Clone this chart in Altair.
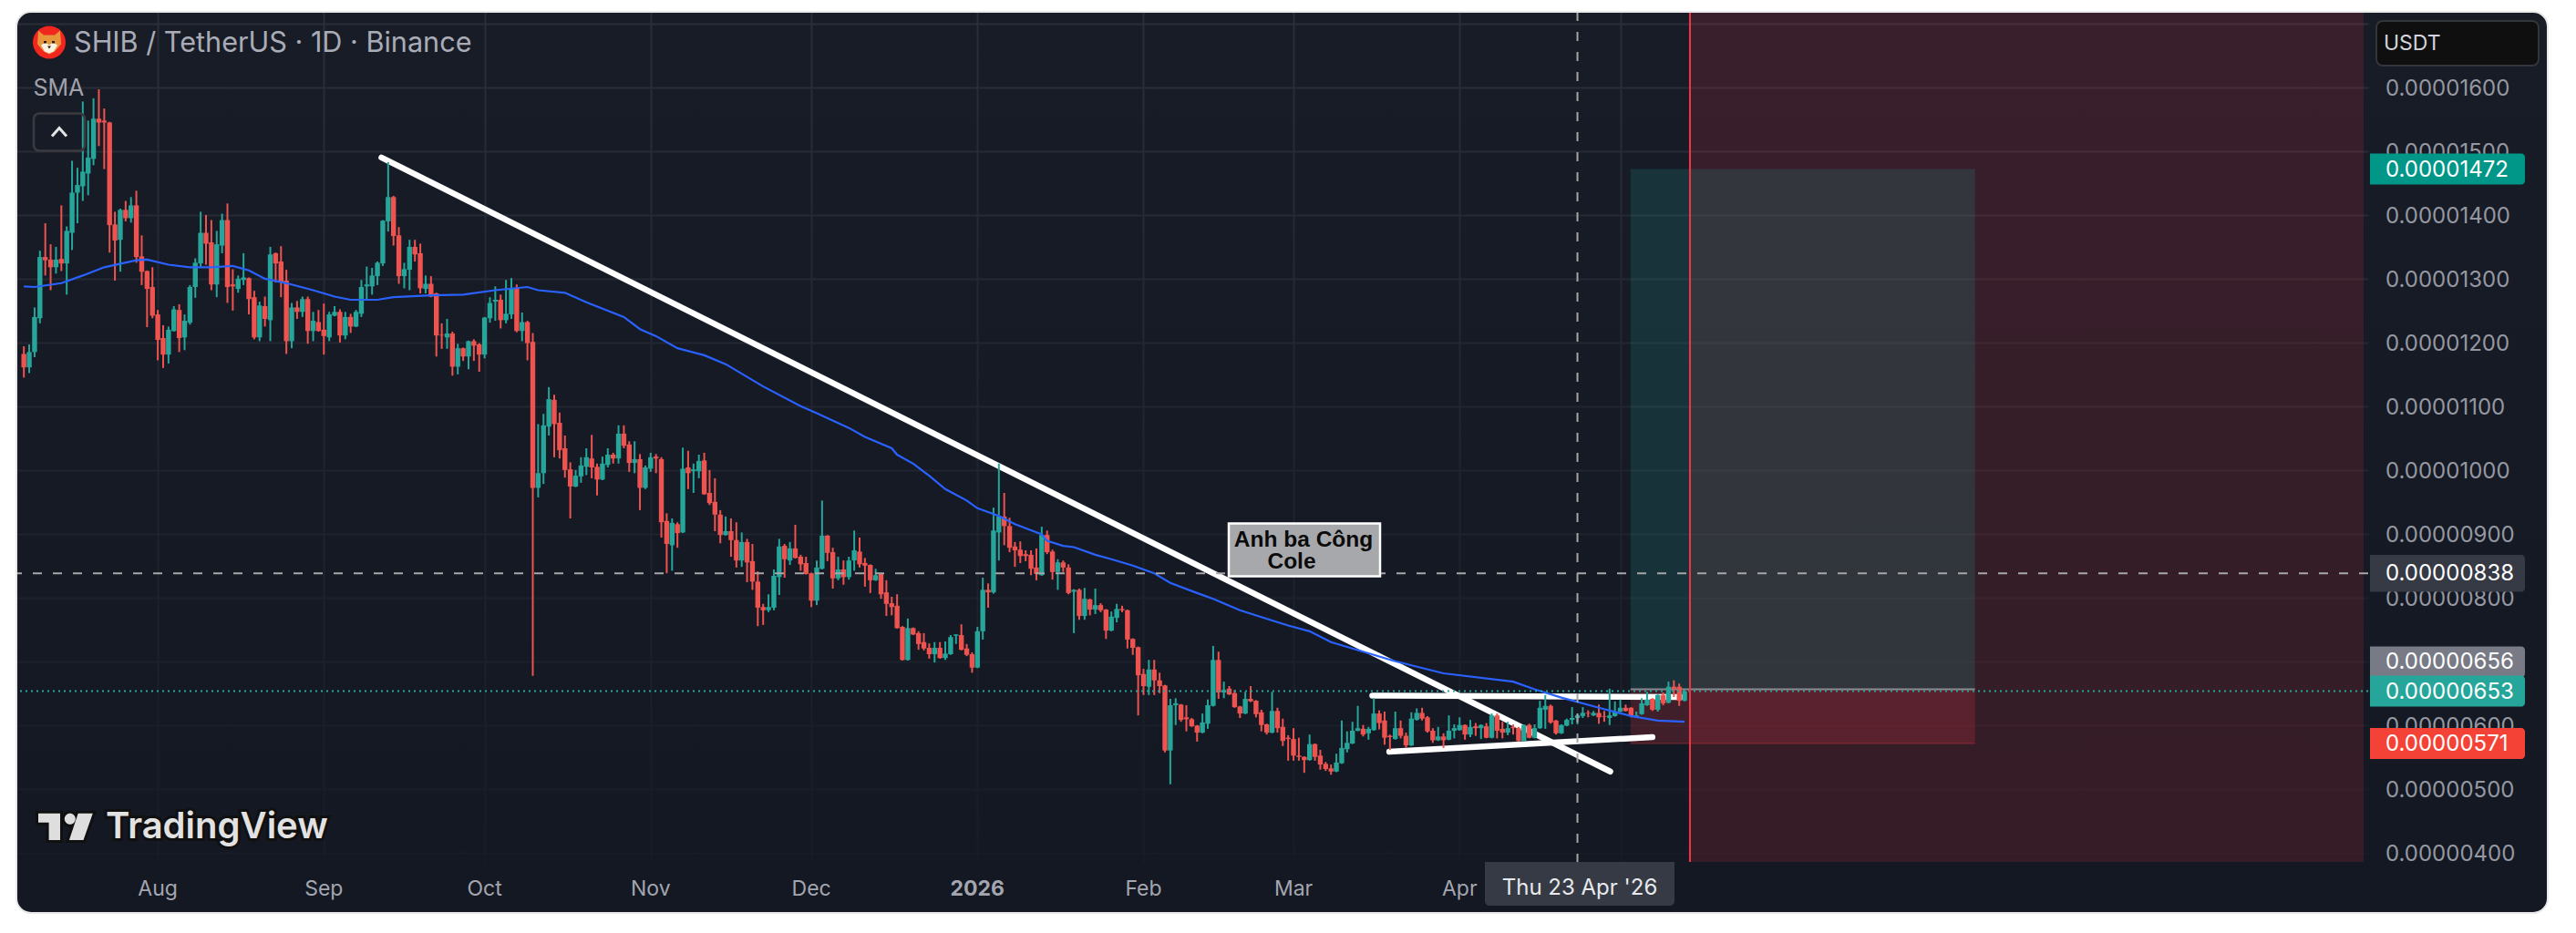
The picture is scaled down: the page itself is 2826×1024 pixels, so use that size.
import altair as alt
import pandas as pd

# ---- chart values (prices in units of 1e-8 USDT) ----
first_day = "2025-07-07"
opens = [
1182,1161,1185,1238,1334,1330,1318,1331,1324,1372,
1435,1445,1465,1488,1551,1548,1545,1385,1361,1408,
1395,1415,1335,1312,1287,1244,1207,1181,1218,1251,
1208,1231,1287,1324,1372,1357,1291,1352,1392,1291,
1284,1298,1301,1271,1208,1257,1235,1340,1327,1297,
1202,1255,1248,1268,1218,1232,1220,1208,1242,1248,
1211,1240,1225,1245,1288,1288,1304,1324,1390,1428,
1368,1304,1314,1350,1340,1284,1292,1277,1212,1208,
1214,1162,1191,1178,1202,1197,1181,1238,1264,1267,
1235,1244,1285,1218,1232,1201,972,995,1068,1110,
1074,1034,1001,974,990,1005,1018,1005,985,1008,
1024,1018,1057,1040,1011,1017,972,1002,1021,1017,
920,882,915,902,1004,998,998,1015,964,950,
930,898,904,890,858,887,857,825,785,780,
784,832,881,858,877,864,854,838,795,845,
897,871,830,844,832,858,872,854,851,827,
837,808,791,787,754,702,752,744,730,721,
711,721,705,711,740,741,720,711,690,747,
812,808,902,927,912,880,875,868,867,847,
835,898,872,840,855,847,809,812,771,797,
781,788,781,748,768,782,780,735,722,680,
660,687,670,662,560,631,632,612,609,599,
588,602,630,702,651,657,650,629,618,641,
638,620,601,588,622,597,580,578,552,550,
545,570,552,539,532,527,540,562,571,591,
594,587,592,618,607,583,578,595,583,568,
608,619,612,591,576,582,577,591,592,600,
585,598,595,598,580,615,594,588,597,595,
575,600,580,595,624,630,607,587,599,608,
611,614,619,615,619,614,611,614,621,627,
627,613,617,631,641,624,647,635,660,660,638]
highs = [
1194,1197,1255,1344,1387,1354,1350,1415,1382,1485,
1474,1578,1548,1583,1597,1567,1546,1405,1410,1422,
1428,1438,1368,1313,1318,1251,1227,1225,1257,1260,
1244,1290,1332,1405,1400,1392,1375,1402,1418,1315,
1305,1340,1302,1281,1264,1272,1350,1341,1351,1314,
1262,1265,1272,1272,1248,1251,1261,1248,1257,1252,
1248,1245,1251,1298,1319,1317,1327,1392,1483,1430,
1381,1325,1361,1361,1355,1305,1304,1278,1230,1237,
1217,1198,1192,1203,1205,1199,1240,1271,1288,1275,
1298,1301,1291,1247,1234,1215,1072,1088,1130,1118,
1090,1054,1012,1000,1020,1034,1055,1010,1021,1034,
1027,1070,1070,1045,1045,1025,1007,1027,1025,1020,
932,924,918,1035,1030,1010,1024,1027,1000,987,
937,927,924,918,902,892,884,841,790,805,
844,892,884,887,914,867,864,839,858,952,
898,878,864,858,864,905,894,862,852,845,
838,827,801,805,755,767,753,747,744,728,
730,730,731,741,742,758,727,714,754,831,
822,941,1010,964,925,887,888,874,874,877,
911,905,875,860,858,852,813,814,815,798,
814,791,782,778,790,787,781,736,723,688,
702,702,682,663,641,642,633,631,611,600,
618,640,724,715,668,661,655,630,652,661,
639,624,602,652,627,610,584,595,580,551,
585,571,561,542,538,555,607,590,605,630,
600,597,642,623,621,585,621,607,588,620,
626,627,614,595,597,587,615,601,612,601,
608,603,601,603,618,618,605,605,601,597,
601,602,601,638,647,632,608,601,610,628,
617,628,623,622,632,622,657,637,640,632,
628,621,642,652,642,648,651,668,670,665,655]
lows = [
1145,1152,1177,1230,1305,1282,1308,1312,1275,1345,
1387,1422,1431,1478,1508,1472,1341,1297,1311,1390,
1388,1325,1290,1224,1238,1172,1160,1167,1217,1185,
1188,1228,1270,1317,1322,1282,1271,1340,1262,1250,
1278,1290,1244,1205,1202,1225,1202,1294,1271,1182,
1191,1237,1240,1198,1202,1217,1181,1202,1241,1200,
1205,1215,1224,1240,1267,1275,1290,1320,1374,1352,
1292,1285,1282,1327,1277,1277,1271,1178,1190,1190,
1148,1150,1171,1158,1171,1154,1175,1231,1234,1222,
1230,1237,1216,1202,1172,677,957,978,1054,1020,
1018,988,924,973,980,992,987,960,984,1004,
1010,1010,1034,997,995,937,970,997,995,894,
838,842,878,901,970,964,987,961,945,904,
885,897,864,847,848,824,812,755,757,777,
780,804,831,851,861,842,836,785,788,844,
857,814,827,820,828,842,847,817,807,826,
798,771,772,751,701,701,741,718,717,704,
698,704,702,710,727,717,708,682,689,734,
784,806,858,882,871,848,854,857,835,827,
834,868,828,812,840,805,744,765,765,772,
774,777,735,747,761,777,720,710,615,647,
647,647,650,557,507,600,605,590,597,574,
587,594,629,641,642,647,627,611,617,636,
612,590,585,587,588,567,544,544,544,525,
544,544,530,528,522,526,539,557,570,590,
582,577,591,593,569,561,577,579,564,567,
607,607,588,572,575,564,576,579,591,577,
581,583,578,579,579,579,579,584,585,574,
574,579,579,594,594,602,585,586,598,601,
601,611,612,614,602,605,600,613,620,621,
612,611,616,630,622,621,631,634,644,630,637]
closes = [
1161,1185,1240,1334,1329,1318,1330,1324,1375,1435,
1447,1468,1490,1551,1545,1545,1384,1360,1408,1395,
1415,1334,1311,1284,1242,1204,1181,1220,1252,1207,
1234,1287,1325,1372,1355,1291,1354,1392,1287,1288,
1300,1302,1268,1208,1258,1237,1338,1324,1295,1202,
1255,1248,1268,1218,1234,1218,1210,1244,1248,1211,
1240,1225,1248,1287,1291,1305,1325,1391,1428,1367,
1304,1315,1350,1338,1285,1292,1272,1211,1211,1214,
1162,1191,1178,1202,1195,1181,1239,1262,1267,1235,
1245,1285,1218,1232,1199,972,995,1070,1111,1072,
1031,1000,974,991,1007,1020,1004,985,1010,1024,
1018,1057,1038,1011,1017,972,1004,1020,1018,918,
884,917,901,1002,995,1001,1014,962,948,930,
898,904,890,858,887,855,825,784,780,785,
834,880,860,877,862,852,837,795,847,897,
870,830,844,832,858,874,852,850,827,835,
805,790,785,752,702,752,742,727,720,711,
721,705,712,738,742,718,710,690,747,812,
808,905,927,912,878,874,865,865,845,837,
898,871,840,855,847,807,812,771,798,781,
788,780,748,770,782,780,734,721,678,661,
687,670,661,560,631,634,608,609,598,588,
604,631,702,651,655,648,628,618,641,637,
617,600,588,622,595,575,578,552,550,545,
570,550,538,531,527,541,564,572,591,595,
585,594,618,603,580,581,595,583,568,610,
619,610,590,576,582,576,591,595,600,585,
597,595,600,580,615,591,588,595,595,575,
600,580,595,627,630,604,587,600,608,611,
615,619,618,619,612,613,615,621,627,622,
614,615,634,640,624,647,634,660,657,638,653]

sma_bar = [0,2,7,11,15,21,23,27,31,35,39,42,45,49,54,58,61,66,69,76,82,88,94,96,101,105,112,115,118,122,127,
           131,138,145,148,154,157,162,163,166,169,172,176,178,182,185,190,191,194,196,200,203,207,211,214,219,
           222,227,233,236,240,244,248,252,256,265,278,282,287,294,300,305,310]
sma_val = [1288,1287,1293,1305,1318,1329,1330,1322,1318,1318,1320,1313,1300,1293,1282,1272,1267,1267,1271,1274,1275,1282,1287,1282,1278,1263,1240,1221,1210,1191,1180,
           1166,1131,1100,1089,1066,1052,1034,1024,1010,991,970,952,940,928,915,899,889,881,879,867,860,850,838,823,807,
           798,780,764,756,747,730,720,710,700,681,668,656,643,627,614,607,605]

grid_prices = list(range(400, 1800, 100))
label_prices = list(range(400, 1700, 100))
month_starts = ["2025-08-01","2025-09-01","2025-10-01","2025-11-01","2025-12-01","2026-01-01","2026-02-01","2026-03-01","2026-04-01","2026-05-01"]
month_labels = ["Aug","Sep","Oct","Nov","Dec","2026","Feb","Mar","Apr",""]
month_weight = ["normal","normal","normal","normal","normal","bold","normal","normal","normal","normal"]

trend_dates = ["2025-09-11T18:00:00Z","2026-04-29T03:00:00Z"]
trend_prices = [1490, 527]
upper_dates = ["2026-03-15T17:00:00Z","2026-05-12T07:00:00Z"]
upper_prices = [646, 644]
lower_dates = ["2026-03-18T21:00:00Z","2026-05-07T00:00:00Z"]
lower_prices = [558, 581]

take_profit, entry, stop = 1472, 656, 571
box_start, box_end = "2026-05-02T22:00:00Z", "2026-07-06T05:00:00Z"
red_line_day = "2026-05-14T00:00:00Z"
cross_day = "2026-04-23T00:00:00Z"
cross_price, last_price = 838, 653

tag_values = [1472, 838, 656, 653, 571]
tag_colors = ["#009688", "#363a45", "#787b86", "#26a69a", "#f44336"]
tag_centre = [1472, 838, 699, 653, 571]
tag_half = [24.3, 29, 24.3, 24.3, 24.3]

# ---- layout helpers ----
UNIT = 1e-8
PLOT_L, PLOT_T = 18, 13
PLOT_W, PLOT_H = 2580, 933
def px(x): return x - PLOT_L
def py(y): return y - PLOT_T

def ms(s):
    t = pd.Timestamp(s)
    t = t.tz_localize("UTC") if t.tzinfo is None else t
    return int(t.timestamp() * 1000)

aug1 = pd.Timestamp("2025-08-01", tz="UTC")
x_dom = [int((aug1 + pd.Timedelta(days=d)).timestamp() * 1000) for d in (-25.54, 411.75)]
y_dom = [385.2 * UNIT, 1718.6 * UNIT]

assert len(opens) == len(highs) == len(lows) == len(closes) == 311

dates = [d.strftime("%Y-%m-%dT00:00:00Z") for d in pd.date_range(first_day, periods=len(opens), freq="D")]
candles = pd.DataFrame({
    "date": dates,
    "high": [v * UNIT for v in highs],
    "low": [v * UNIT for v in lows],
    "top": [max(a, b) * UNIT for a, b in zip(opens, closes)],
    "bot": [min(a, b) * UNIT for a, b in zip(opens, closes)],
    "dir": ["up" if c >= o else "down" for o, c in zip(opens, closes)],
})
sma = pd.DataFrame({"date": [dates[i] for i in sma_bar], "v": [v * UNIT for v in sma_val]})

FONT = "Inter"
x_scale = alt.Scale(type="utc", domain=x_dom)
y_scale = alt.Scale(type="linear", domain=y_dom, zero=False, nice=False)
x_axis = alt.Axis(
    values=[ms(s) for s in month_starts], title=None, grid=True, gridColor="#2a2e39", gridWidth=2,
    domain=False, ticks=False, labels=False,
)
y_axis = alt.Axis(
    orient="right", values=[v * UNIT for v in grid_prices], title=None, grid=True, gridColor="#2a2e39", gridWidth=2,
    domain=False, ticks=False, labels=False,
)
def X(f="date"): return alt.X(f"{f}:T", scale=x_scale, axis=x_axis)
def Y(f): return alt.Y(f"{f}:Q", scale=y_scale, axis=y_axis)

one = pd.DataFrame({"a": [0]})
def label(s, x, y, **kw):
    kw.setdefault("font", FONT)
    kw.setdefault("align", "left")
    kw.setdefault("baseline", "middle")
    return alt.Chart(one).mark_text(**kw).encode(x=alt.value(px(x)), y=alt.value(py(y)), text=alt.value(s))
def box(x0, x1, y0, y1, **kw):
    return alt.Chart(one).mark_rect(**kw).encode(
        x=alt.value(px(x0)), x2=alt.value(px(x1)), y=alt.value(py(y0)), y2=alt.value(py(y1)))
def glyph(path, x, y, **kw):
    kw.setdefault("opacity", 1)
    return alt.Chart(one).mark_point(shape=path, size=4, **kw).encode(x=alt.value(px(x)), y=alt.value(py(y)))

# ---- layers ----
panel_shade = box(18, 2795, 13, 1002, cornerRadius=16, fill=alt.LinearGradient(
    gradient="linear", x1=0, x2=0, y1=0, y2=1,
    stops=[alt.GradientStop(color="rgba(19,23,34,0)", offset=0),
           alt.GradientStop(color="rgba(19,23,34,0.85)", offset=1)]))

red_zone = alt.Chart(pd.DataFrame({"a": [ms(red_line_day)], "b": [x_dom[1]]})).mark_rect(
    color="#f23645", opacity=0.15).encode(x=alt.X("a:T", scale=x_scale, axis=x_axis), x2="b:T")

long_df = pd.DataFrame({"a": [box_start], "b": [box_end], "tp": [take_profit * UNIT], "en": [entry * UNIT], "sl": [stop * UNIT]})
tp_box = alt.Chart(long_df).mark_rect(color="#22968e", opacity=0.2).encode(x=X("a"), x2="b:T", y=Y("tp"), y2="en:Q")
sl_box = alt.Chart(long_df).mark_rect(color="#f23645", opacity=0.2).encode(x=X("a"), x2="b:T", y=Y("en"), y2="sl:Q")
entry_line = alt.Chart(long_df).mark_rule(color="#8a8a92", strokeWidth=2).encode(x=X("a"), x2="b:T", y=Y("en"))
stop_line = alt.Chart(long_df).mark_rule(color="#f23645", strokeWidth=2, opacity=0.2).encode(x=X("a"), x2="b:T", y=Y("sl"))

def white_line(ds, ps):
    d = pd.DataFrame({"date": ds, "p": [v * UNIT for v in ps]})
    return alt.Chart(d).mark_line(color="#ffffff", strokeWidth=6.5, strokeCap="round").encode(x=X(), y=Y("p"))
trend = white_line(trend_dates, trend_prices)
upper = white_line(upper_dates, upper_prices)
lower = white_line(lower_dates, lower_prices)

color = alt.Color("dir:N", scale=alt.Scale(domain=["up", "down"], range=["#26a69a", "#ef5350"]), legend=None)
wicks = alt.Chart(candles).mark_rule(strokeWidth=2).encode(x=X(), y=Y("low"), y2="high:Q", color=color)
bodies = alt.Chart(candles).mark_bar(size=5.4).encode(x=X(), y=Y("bot"), y2="top:Q", color=color)
sma_line = alt.Chart(sma).mark_line(color="#2962ff", strokeWidth=2.2).encode(x=X(), y=Y("v"))

cross_h = alt.Chart(pd.DataFrame({"p": [cross_price * UNIT]})).mark_rule(
    color="#a6a6a6", strokeWidth=2, strokeDash=[10, 12]).encode(y=Y("p"))
cross_v = alt.Chart(pd.DataFrame({"date": [cross_day]})).mark_rule(
    color="#a6a6a6", strokeWidth=2, strokeDash=[10, 12]).encode(x=X())
last_line = alt.Chart(pd.DataFrame({"p": [last_price * UNIT]})).mark_rule(
    color="#26a69a", strokeWidth=2, strokeDash=[2, 4]).encode(y=Y("p"))
red_line = alt.Chart(pd.DataFrame({"date": [red_line_day]})).mark_rule(color="#f23645", strokeWidth=2).encode(x=X())

# tick labels (drawn below the price tags, as in the reference)
y_lab_df = pd.DataFrame({"p": [v * UNIT for v in label_prices], "t": [f"{v * UNIT:.8f}" for v in label_prices]})
y_labels = alt.Chart(y_lab_df).mark_text(font=FONT, fontSize=24, align="left", baseline="middle", color="#9598a1", dy=2).encode(
    x=alt.value(px(2617)), y=Y("p"), text="t:N")
x_lab_df = pd.DataFrame({"date": [ms(s) for s in month_starts], "t": month_labels, "w": month_weight})
x_labels = alt.Chart(x_lab_df[x_lab_df.w == "normal"]).mark_text(font=FONT, fontSize=23, align="center", baseline="middle", color="#a3a6af").encode(
    x=X(), y=alt.value(py(976)), text="t:N")
x_labels_bold = alt.Chart(x_lab_df[x_lab_df.w == "bold"]).mark_text(font=FONT, fontSize=23, fontWeight="bold", align="center", baseline="middle", color="#a3a6af").encode(
    x=X(), y=alt.value(py(976)), text="t:N")

tags = pd.DataFrame({
    "hi": [(c + h) * UNIT for c, h in zip(tag_centre, tag_half)],
    "lo": [(c - h) * UNIT for c, h in zip(tag_centre, tag_half)],
    "mid": [c * UNIT for c in tag_centre],
    "txt": [f"{v * UNIT:.8f}" for v in tag_values],
    "col": tag_colors,
})
tag_rects = alt.Chart(tags).mark_rect(cornerRadiusTopRight=4, cornerRadiusBottomRight=4).encode(
    x=alt.value(px(2600)), x2=alt.value(px(2770)), y=Y("hi"), y2="lo:Q", fill=alt.Fill("col:N", scale=None))
tag_text = alt.Chart(tags).mark_text(font=FONT, fontSize=24, align="left", baseline="middle", color="#ffffff", dy=1).encode(
    x=alt.value(px(2617)), y=Y("mid"), text="txt:N")

note_box = box(1348, 1514, 574.5, 632.5, fill="#a7a8ac", stroke="#ffffff", strokeWidth=2.5)
note1 = label("Anh ba Công", 1430, 593, font="Liberation Sans", fontWeight="bold", fontSize=24.5, color="#0b0b0b", align="center")
note2 = label("Cole", 1417, 617, font="Liberation Sans", fontWeight="bold", fontSize=24.5, color="#0b0b0b", align="center")

cross_tag = box(1629, 1837, 946, 994, fill="#363a45", cornerRadiusBottomLeft=5, cornerRadiusBottomRight=5)
cross_txt = label("Thu 23 Apr '26", 1733, 975, fontSize=24, color="#e8e9ec", align="center")

title = label("SHIB / TetherUS · 1D · Binance", 81, 48, fontSize=30.6, color="#a9acb6")
sma_txt = label("SMA", 36.5, 97, fontSize=25, color="#a0a3ab")
btn = box(37, 93, 124.5, 165.5, fillOpacity=0, stroke="#3a3b3e", strokeWidth=2.5, cornerRadius=6)
chev = glyph("M-8,4.5L0,-4.5L8,4.5", 65, 145, filled=False, stroke="#e4e4e4", strokeWidth=3)

usdt_box = box(2607, 2785, 23, 72, fill="#0f0f10", stroke="#33363b", strokeWidth=2, cornerRadius=7)
usdt_txt = label("USDT", 2615, 48, fontSize=23, color="#d1d4dc")

coin = alt.layer(
    glyph("M-18,0A18,18,0,1,1,18,0A18,18,0,1,1,-18,0Z", 54, 46.5, filled=True, fill="#f0261f"),
    glyph("M-12,-13L-6,-8L6,-8L12,-13L13,2L6,10L0,13L-6,10L-13,2Z", 54, 46.5, filled=True, fill="#e8963c"),
    glyph("M-9,3L-4,0L0,3L4,0L9,3L5,10L0,12L-5,10Z", 54, 46.5, filled=True, fill="#fbf1e2"),
    glyph("M-6,-1.5L-3,-1.5L-3,1L-6,1ZM3,-1.5L6,-1.5L6,1L3,1ZM-2,4L2,4L0,7Z", 54, 46.5, filled=True, fill="#2a1a12"),
)

TV_T = "M-29,-14.3L-5,-14.3L-5,15L-17.4,15L-17.4,-4.3L-29,-4.3Z"
TV_S = "M14.7,-14.3L30.8,-14.3L20.5,15L4.9,15Z"
TV_D = "M-0.2,-8.3A6,6,0,1,1,11.8,-8.3A6,6,0,1,1,-0.2,-8.3Z"
tv_logo = alt.layer(
    *[glyph(p, 71, 907, filled=True, fill="#101010", stroke="#101010", strokeWidth=6) for p in (TV_T, TV_S, TV_D)],
    *[glyph(p, 71, 907, filled=True, fill="#dedede") for p in (TV_T, TV_S, TV_D)],
    label("TradingView", 116, 908, fontSize=40, fontWeight=600, color="#101010", stroke="#101010", strokeWidth=6),
    label("TradingView", 116, 908, fontSize=40, fontWeight=600, color="#e2e2e2"),
)

# white page surround that rounds the dark panel's corners
frame = box(18 - 30, 2795 + 30, 13 - 30, 1002 + 30, fillOpacity=0, stroke="#ffffff", strokeWidth=60, cornerRadius=46)
frame_edge = box(18, 2795, 13, 1002, fillOpacity=0, stroke="#e8e8e8", strokeWidth=2, cornerRadius=16)

chart = alt.layer(
    panel_shade, red_zone, tp_box, sl_box, stop_line, entry_line,
    trend, upper, lower, wicks, bodies, sma_line,
    last_line, cross_h, cross_v, red_line,
    y_labels, x_labels, x_labels_bold,
    note_box, note1, note2, tag_rects, tag_text, cross_tag, cross_txt,
    title, sma_txt, btn, chev, usdt_box, usdt_txt, coin, tv_logo,
    frame, frame_edge,
).properties(
    width=PLOT_W, height=PLOT_H, background="#181c27",
    padding={"left": 10, "top": 5, "right": 220, "bottom": 70},
    autosize=alt.AutoSizeParams(type="none"),
).configure_view(strokeWidth=0)

chart.save("out.html", embed_options={"renderer": "svg", "actions": False})
